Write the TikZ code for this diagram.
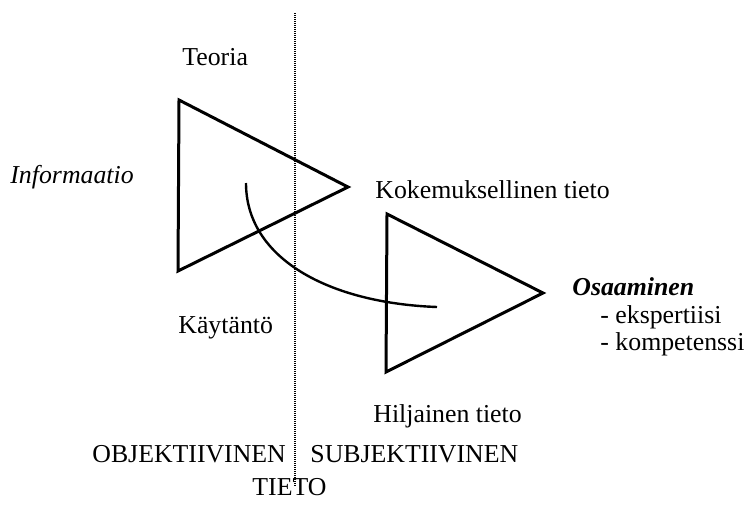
\documentclass[tikz,border=0pt]{standalone}
\usepackage{fontspec}
\setmainfont{Liberation Serif}
\usetikzlibrary{positioning}

\begin{document}
\begin{tikzpicture}[
    x=0.5pt, y=-0.5pt,
    lbl/.style={anchor=base west, inner sep=0pt, font=\fontsize{12.9}{15.5}\selectfont},
    tri/.style={draw, line width=1.5pt, line join=miter},
    arc/.style={draw, line width=1.2pt},
    divider/.style={draw, line width=0.8pt, dash pattern=on 0.5pt off 0.5pt}
]
    \useasboundingbox (0,0) rectangle (747,504);

    % triangles
    \coordinate (t1a) at (179,100);
    \coordinate (t1b) at (178,271);
    \coordinate (t1c) at (348,187);
    \coordinate (t2a) at (387,214);
    \coordinate (t2b) at (386,372);
    \coordinate (t2c) at (543,293);
    \path[tri] (t1a) -- (t1c) -- (t1b) -- cycle;
    \path[tri] (t2a) -- (t2c) -- (t2b) -- cycle;

    % divider
    \coordinate (divtop) at (295,13);
    \coordinate (divbot) at (295,487);
    \path[divider] (divtop) -- (divbot);

    % curve
    \coordinate (arcstart) at (246,183);
    \coordinate (arcend) at (437,307);
    \path[arc] (arcstart) .. controls (246,258) and (328,303) .. (arcend);

    \node[lbl] (teoria) at (182,65) {Teoria};
    \node[lbl] (info) at (10,183) {\itshape Informaatio};
    \node[lbl] (kokem) at (375,198) {Kokemuksellinen tieto};
    \node[lbl] (osaam) at (572,295) {\bfseries\itshape Osaaminen};
    \node[lbl] (ekspert) at (600,323) {- ekspertiisi};
    \node[lbl] (kompet) at (600,350) {- kompetenssi};
    \node[lbl] (kaytanto) at (178,333) {Käytäntö};
    \node[lbl] (hiljainen) at (373,422) {Hiljainen tieto};
    \node[lbl] (obj) at (92,462) {OBJEKTIIVINEN};
    \node[lbl] (subj) at (310,462) {SUBJEKTIIVINEN};
    \node[lbl] (tieto) at (252,495) {TIETO};
\end{tikzpicture}
\end{document}
